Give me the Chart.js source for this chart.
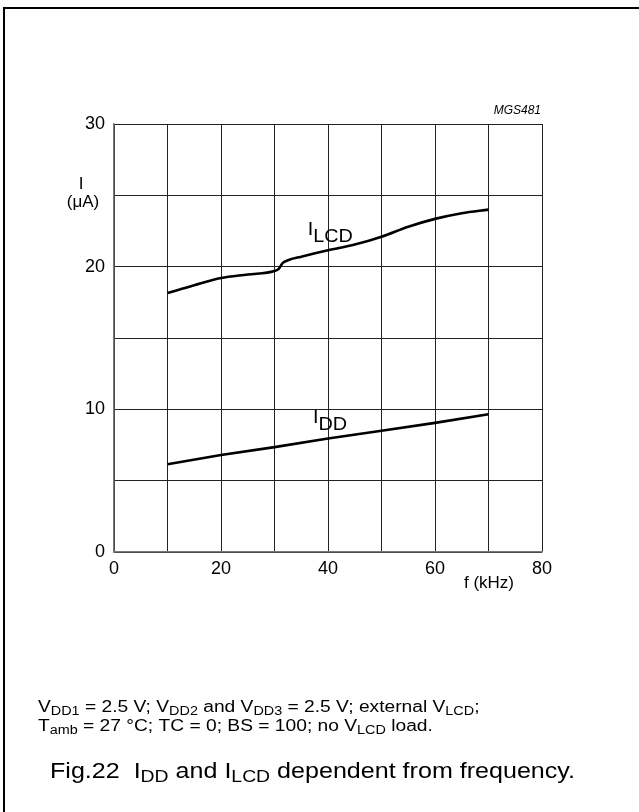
<!DOCTYPE html>
<html>
<head>
<meta charset="utf-8">
<script src="https://cdn.jsdelivr.net/npm/chart.js"></script>
<style>
  html, body { margin: 0; padding: 0; background: #fff; }
  #wrap { position: relative; width: 639px; height: 812px; }
  canvas { position: absolute; left: 0; top: 0; }
</style>
</head>
<body>
<div id="wrap"><canvas id="chart" width="639" height="812"></canvas></div>
<script>
// values
const lcdFreq = [10, 15, 20, 25, 30, 30.8, 31.5, 32.5, 35, 40, 45, 50, 55, 60, 65, 70];
const lcdCurrent = [18.15, 18.7, 19.2, 19.45, 19.7, 19.85, 20.25, 20.45, 20.7, 21.15, 21.55, 22.1, 22.8, 23.35, 23.75, 24.0];
const ddFreq = [10, 20, 30, 40, 50, 60, 70];
const ddCurrent = [6.15, 6.8, 7.35, 7.95, 8.5, 9.05, 9.65];
const xTickLabels = [0, 20, 40, 60, 80];
const yTickLabels = [0, 10, 20, 30];

const FONT = "'Liberation Sans', Arial, sans-serif";

function toPoints(xs, ys) {
  return xs.map(function (x, i) { return { x: x, y: ys[i] }; });
}

// draws text made of [text, isSub] pieces, stretched sideways by sx
function drawRich(ctx, x, y, parts, size, subSize, subDrop, sx) {
  ctx.save();
  ctx.translate(x, y);
  ctx.scale(sx || 1, 1);
  ctx.textBaseline = "alphabetic";
  ctx.textAlign = "left";
  let cx = 0;
  parts.forEach(function (p) {
    const sub = p[1];
    ctx.font = (sub ? subSize : size) + "px " + FONT;
    ctx.fillText(p[0], cx, sub ? subDrop : 0);
    cx += ctx.measureText(p[0]).width;
  });
  ctx.restore();
}

const extras = {
  id: "extras",
  afterDraw(chart) {
    const ctx = chart.ctx;
    const xs = chart.scales.x, ys = chart.scales.y;
    ctx.save();
    ctx.fillStyle = "#000";

    // frame (left and top)
    ctx.strokeStyle = "#000";
    ctx.lineWidth = 2;
    ctx.beginPath();
    ctx.moveTo(4, 812);
    ctx.lineTo(4, 8);
    ctx.lineTo(639, 8);
    ctx.stroke();

    // curve labels
    drawRich(ctx, xs.getPixelForValue(36.2), ys.getPixelForValue(22.2),
      [["I", false], ["LCD", true]], 18, 18, 7, 1.1);
    drawRich(ctx, xs.getPixelForValue(37.2), ys.getPixelForValue(9.05),
      [["I", false], ["DD", true]], 18, 18, 7, 1.1);

    // figure code
    ctx.font = "italic 12px " + FONT;
    ctx.textAlign = "right";
    ctx.fillText("MGS481", xs.getPixelForValue(80) - 1, 114);

    // axis titles
    ctx.font = "17px " + FONT;
    ctx.textAlign = "center";
    ctx.fillText("I", 81, 189);
    ctx.fillText("(\u03bcA)", 83, 207);
    ctx.fillText("f (kHz)", 489, 588);

    // conditions
    drawRich(ctx, 38, 712, [["V", false], ["DD1", true], [" = 2.5 V; V", false], ["DD2", true],
      [" and V", false], ["DD3", true], [" = 2.5 V; external V", false], ["LCD", true], [";", false]], 16, 12, 3, 1.2);
    drawRich(ctx, 38, 731, [["T", false], ["amb", true], [" = 27 \u00b0C; TC = 0; BS = 100; no V", false],
      ["LCD", true], [" load.", false]], 16, 12, 3, 1.2);

    // caption
    drawRich(ctx, 50, 778, [["Fig.22  I", false], ["DD", true], [" and I", false], ["LCD", true],
      [" dependent from frequency.", false]], 22, 17, 4, 1.14);
    ctx.restore();
  }
};

new Chart(document.getElementById("chart"), {
  type: "line",
  data: {
    datasets: [
      {
        label: "ILCD",
        data: toPoints(lcdFreq, lcdCurrent),
        borderColor: "#000",
        borderWidth: 2.6,
        pointRadius: 0,
        cubicInterpolationMode: "monotone",
        fill: false,
      },
      {
        label: "IDD",
        data: toPoints(ddFreq, ddCurrent),
        borderColor: "#000",
        borderWidth: 2.6,
        pointRadius: 0,
        fill: false,
      },
    ],
  },
  options: {
    responsive: false,
    animation: false,
    devicePixelRatio: 1,
    layout: { padding: { left: 74, right: 97, top: 124, bottom: 220 } },
    plugins: {
      legend: { display: false },
      tooltip: { enabled: false },
    },
    scales: {
      x: {
        type: "linear",
        min: 0,
        max: 80,
        afterFit(scale) { scale.height = 40; },
        ticks: {
          stepSize: 10,
          autoSkip: false,
          maxRotation: 0,
          padding: 6,
          color: "#000",
          font: { family: FONT, size: 18 },
          callback: function (v) { return xTickLabels.includes(v) ? String(v) : ""; },
        },
        grid: { color: "#222", lineWidth: 1, drawTicks: false },
        border: { color: "#777", width: 1.5 },
      },
      y: {
        type: "linear",
        min: 0,
        max: 30,
        afterFit(scale) { scale.width = 40; },
        ticks: {
          stepSize: 5,
          autoSkip: false,
          padding: 9,
          color: "#000",
          font: { family: FONT, size: 18 },
          callback: function (v) { return yTickLabels.includes(v) ? String(v) : ""; },
        },
        grid: { color: "#222", lineWidth: 1, drawTicks: false },
        border: { color: "#777", width: 1.5 },
      },
    },
  },
  plugins: [extras],
});
</script>
</body>
</html>
